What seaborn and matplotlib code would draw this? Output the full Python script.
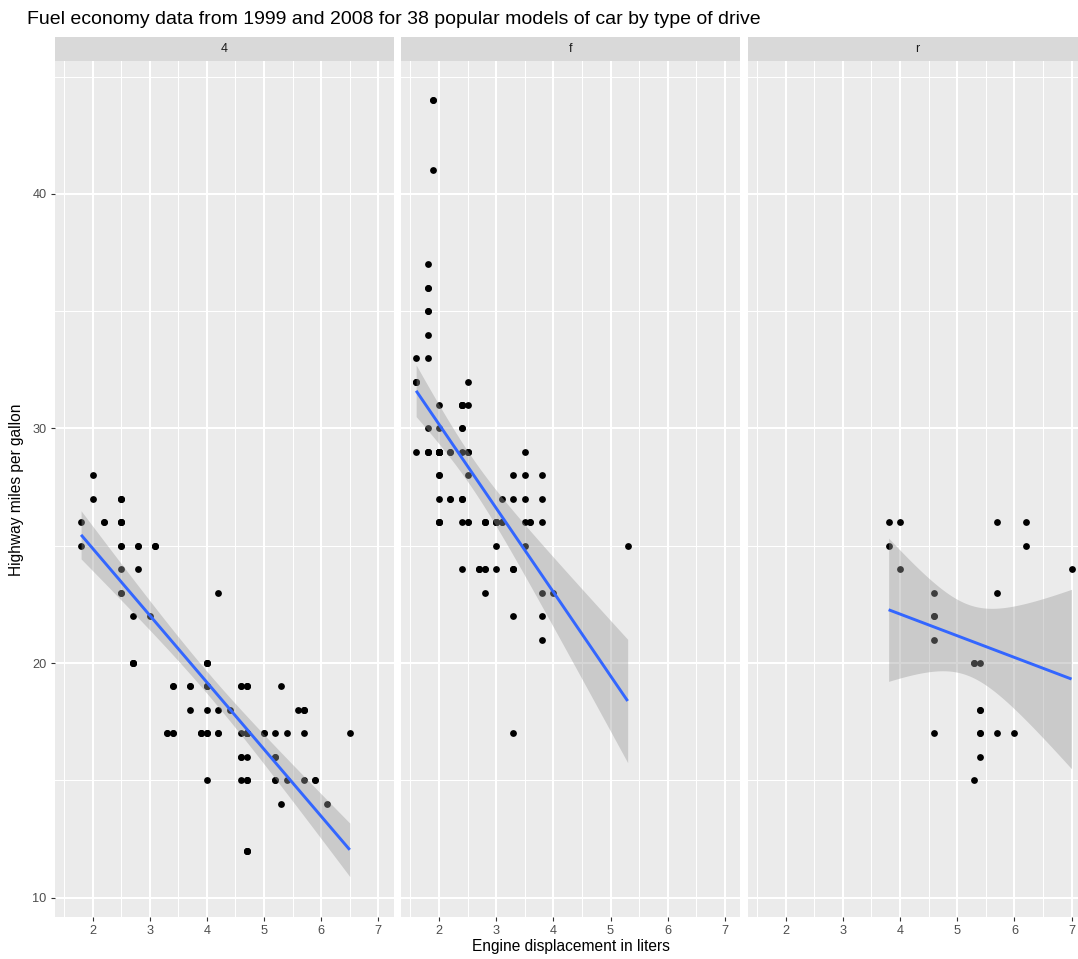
import numpy as np
import pandas as pd
import matplotlib
matplotlib.use("Agg")
import matplotlib.pyplot as plt
from matplotlib.patches import Rectangle
from matplotlib.ticker import MultipleLocator
import seaborn as sns

# Highway mileage vs engine displacement, one list pair per drive type
displ_4 = [1.8, 1.8, 2.0, 2.0, 2.8, 2.8, 3.1, 3.1, 2.8, 3.1, 4.2,
           5.3, 5.3, 5.7, 6.5,
           3.7, 3.7, 3.9, 3.9, 4.7, 4.7, 4.7, 5.2, 5.2,
           3.9, 4.7, 4.7, 4.7, 5.2, 5.7, 5.9,
           4.7, 4.7, 4.7, 4.7, 4.7, 4.7, 5.2, 5.2, 5.7, 5.9,
           4.0, 4.0, 4.0, 4.0, 4.6, 5.0,
           4.2, 4.2, 4.6, 4.6, 4.6, 5.4, 5.4,
           3.0, 3.7, 4.0, 4.7, 4.7, 4.7, 5.7, 6.1,
           4.0, 4.2, 4.4, 4.6,
           4.0, 4.0, 4.6, 5.0,
           3.3, 3.3, 4.0, 5.6,
           2.5, 2.5, 2.5, 2.5, 2.5, 2.5, 2.2, 2.2, 2.5, 2.5, 2.5, 2.5, 2.5, 2.5,
           2.7, 2.7, 3.4, 3.4, 4.0, 4.7,
           4.7, 5.7,
           2.7, 2.7, 2.7, 3.4, 3.4, 4.0, 4.0]
hwy_4 = [26, 25, 28, 27, 25, 25, 25, 25, 24, 25, 23,
         19, 14, 15, 17,
         19, 18, 17, 17, 19, 19, 12, 17, 15,
         17, 17, 12, 17, 16, 18, 15,
         16, 12, 17, 17, 15, 15, 16, 15, 17, 15,
         17, 19, 17, 19, 19, 17,
         17, 17, 16, 16, 17, 15, 17,
         22, 19, 20, 17, 12, 19, 18, 14,
         15, 18, 18, 15,
         17, 19, 19, 17,
         17, 17, 20, 18,
         25, 24, 27, 25, 26, 23, 26, 26, 26, 26, 27, 23, 27, 26,
         20, 20, 19, 17, 20, 17,
         15, 18,
         20, 20, 22, 17, 19, 18, 20]

displ_f = [1.8, 1.8, 2.0, 2.0, 2.8, 2.8, 3.1,
           2.4, 2.4, 3.1, 3.5, 3.6,
           2.4, 3.0, 3.3, 3.3, 3.3, 3.3, 3.3, 3.8, 3.8, 3.8, 4.0,
           1.6, 1.6, 1.6, 1.6, 1.6, 1.8, 1.8, 1.8, 2.0,
           2.4, 2.4, 2.4, 2.4, 2.5, 2.5, 3.3, 2.0, 2.0, 2.0, 2.0, 2.7, 2.7, 2.7,
           2.4, 2.4, 2.5, 2.5, 3.5, 3.5, 3.0, 3.0, 3.5,
           3.1, 3.8, 3.8, 3.8, 5.3,
           2.2, 2.2, 2.4, 2.4, 3.0, 3.0, 3.5, 2.2, 2.2, 2.4, 2.4, 3.0, 3.0, 3.3,
           1.8, 1.8, 1.8, 1.8, 1.8,
           2.0, 2.0, 2.0, 2.0, 2.8, 1.9, 2.0, 2.0, 2.0, 2.0, 2.5, 2.5, 2.8, 2.8,
           1.9, 1.9, 2.0, 2.0, 2.5, 2.5, 1.8, 1.8, 2.0, 2.0, 2.8, 2.8, 3.6]
hwy_f = [29, 29, 31, 30, 26, 26, 27,
         27, 30, 26, 29, 26,
         24, 24, 22, 24, 24, 24, 17, 22, 21, 23, 23,
         33, 32, 32, 29, 32, 34, 36, 36, 29,
         26, 27, 30, 31, 26, 26, 28, 26, 29, 28, 27, 24, 24, 24,
         29, 27, 31, 32, 27, 26, 26, 25, 25,
         26, 26, 27, 28, 25,
         29, 27, 31, 31, 26, 26, 28, 27, 29, 31, 31, 26, 26, 27,
         30, 33, 35, 37, 35,
         29, 26, 29, 29, 24, 44, 29, 26, 29, 29, 29, 29, 23, 24,
         44, 41, 29, 26, 28, 29, 29, 29, 28, 29, 26, 26, 26]

displ_r = [5.3, 5.3, 5.3, 5.7, 6.0, 5.7, 5.7, 6.2, 6.2, 7.0,
           4.6, 5.4, 5.4,
           3.8, 3.8, 4.0, 4.0, 4.6, 4.6, 4.6, 4.6, 5.4,
           5.4, 5.4, 5.4]
hwy_r = [20, 15, 20, 17, 17, 26, 23, 26, 25, 24,
         17, 17, 18,
         26, 25, 26, 24, 21, 22, 23, 22, 20,
         17, 16, 18]

drive_types = ["4", "f", "r"]
x_ticks = [2, 3, 4, 5, 6, 7]
y_ticks = [10, 20, 30, 40]

mpg = pd.concat([
    pd.DataFrame({"displ": displ_4, "hwy": hwy_4, "drv": "4"}),
    pd.DataFrame({"displ": displ_f, "hwy": hwy_f, "drv": "f"}),
    pd.DataFrame({"displ": displ_r, "hwy": hwy_r, "drv": "r"}),
], ignore_index=True)

plt.rcParams["font.family"] = ["Liberation Sans", "DejaVu Sans"]

W, H = 1078, 959
g = sns.FacetGrid(mpg, col="drv", col_order=drive_types, sharex=True, sharey=True)
fig = g.figure
fig.set_size_inches(W / 100, H / 100)
fig.set_dpi(100)
fig.patch.set_facecolor("white")


def t_quantile(df, z=1.959963984540054):
    # Cornish-Fisher expansion for the 97.5% Student t quantile
    return (z + (z**3 + z) / (4 * df)
            + (5 * z**5 + 16 * z**3 + 3 * z) / (96 * df**2)
            + (3 * z**7 + 19 * z**5 + 17 * z**3 - 15 * z) / (384 * df**3))


def lm_smooth(x, y, **kwargs):
    ax = plt.gca()
    x = np.asarray(x, float)
    y = np.asarray(y, float)
    n = len(x)
    xm = x.mean()
    sxx = np.sum((x - xm) ** 2)
    b1 = np.sum((x - xm) * (y - y.mean())) / sxx
    b0 = y.mean() - b1 * xm
    resid = y - (b0 + b1 * x)
    s = np.sqrt(np.sum(resid ** 2) / (n - 2))
    grid = np.linspace(x.min(), x.max(), 80)
    fit = b0 + b1 * grid
    se = s * np.sqrt(1 / n + (grid - xm) ** 2 / sxx)
    t = t_quantile(n - 2)
    ax.fill_between(grid, fit - t * se, fit + t * se, color="#999999",
                    alpha=0.4, linewidth=0, zorder=3)
    ax.plot(grid, fit, color="#3366FF", linewidth=2.1, zorder=4,
            solid_capstyle="butt")


g.map_dataframe(sns.scatterplot, x="displ", y="hwy", color="black",
                s=24, linewidth=0, zorder=2)
g.map(lm_smooth, "displ", "hwy")

# panel geometry in pixels
top_px, bottom_px = 61.3, 917.3
lefts = [54.5, 401.0, 747.7]
pw = 339.0
strip_px = 24.0
ph = bottom_px - top_px

for ax, left, drv in zip(g.axes.flat, lefts, drive_types):
    ax.set_position([left / W, 1 - bottom_px / H, pw / W, ph / H])
    ax.set_facecolor("#EBEBEB")
    for sp in ax.spines.values():
        sp.set_visible(False)
    ax.set_xlim(1.335, 7.265)
    ax.set_ylim(9.16, 45.65)
    ax.set_xticks(x_ticks)
    ax.set_yticks(y_ticks)
    ax.xaxis.set_minor_locator(MultipleLocator(0.5))
    ax.yaxis.set_minor_locator(MultipleLocator(5))
    ax.set_axisbelow(True)
    ax.grid(which="major", color="white", linewidth=1.45)
    ax.grid(which="minor", color="white", linewidth=0.72)
    ax.tick_params(which="major", length=3.2, width=0.8, color="#333333",
                   labelcolor="#4D4D4D", labelsize=9.2, pad=2.5)
    ax.tick_params(which="minor", length=0)
    ax.set_xticklabels([str(v) for v in x_ticks])
    if drv == drive_types[0]:
        ax.set_yticklabels([str(v) for v in y_ticks])
    else:
        ax.tick_params(axis="y", which="both", left=False, labelleft=False)
    ax.set_xlabel("")
    ax.set_ylabel("")
    ax.set_title("")
    sh = strip_px / ph
    ax.add_patch(Rectangle((0, 1), 1, sh, transform=ax.transAxes,
                           facecolor="#D9D9D9", edgecolor="none",
                           clip_on=False, zorder=1))
    ax.text(0.5, 1 + sh / 2, drv, transform=ax.transAxes, ha="center",
            va="center", fontsize=9, color="#1A1A1A")

fig.text(27 / W, 1 - 19 / H,
         "Fuel economy data from 1999 and 2008 for 38 popular models of car by type of drive",
         ha="left", va="center", fontsize=14.0, color="black")
fig.text(17 / W, 1 - (top_px + bottom_px) / 2 / H, "Highway miles per gallon",
         rotation=90, ha="center", va="center", fontsize=11.2, color="black")
fig.text((lefts[1] + pw / 2) / W, 1 - 947 / H, "Engine displacement in liters",
         ha="center", va="center", fontsize=11.2, color="black")

fig.savefig("out.png", dpi=100, facecolor="white")
